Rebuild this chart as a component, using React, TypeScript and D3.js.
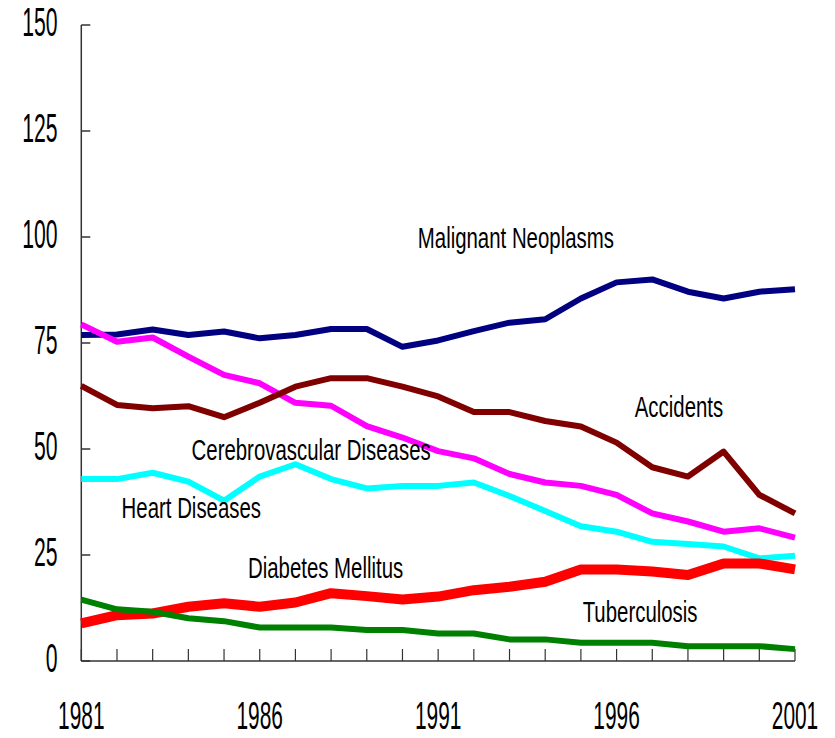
import React, { useEffect, useRef } from "react";
import * as d3 from "d3";

const years = d3.range(1981, 2002);

const malignant = [76.9, 77.0, 78.2, 76.9, 77.7, 76.1, 76.9, 78.3, 78.3, 74.1, 75.6, 77.8, 79.8, 80.6, 85.5, 89.3, 90.0, 87.1, 85.5, 87.1, 87.7];
const cerebro = [79.4, 75.3, 76.3, 71.8, 67.5, 65.5, 60.9, 60.2, 55.4, 52.7, 49.5, 47.8, 44.1, 42.1, 41.3, 39.2, 34.8, 32.9, 30.5, 31.3, 29.1];
const accidents = [64.9, 60.4, 59.6, 60.1, 57.5, 60.9, 64.7, 66.7, 66.7, 64.7, 62.4, 58.7, 58.7, 56.6, 55.3, 51.5, 45.7, 43.5, 49.4, 39.2, 34.8];
const heart = [42.9, 42.9, 44.4, 42.3, 37.8, 43.5, 46.4, 42.9, 40.7, 41.3, 41.3, 42.1, 38.9, 35.4, 31.8, 30.5, 28.1, 27.6, 27.0, 24.2, 24.8];
const diabetes = [8.9, 10.8, 11.2, 12.8, 13.6, 12.8, 13.8, 16.0, 15.3, 14.5, 15.2, 16.7, 17.5, 18.7, 21.6, 21.6, 21.1, 20.3, 23.0, 23.0, 21.6];
const tuberculosis = [14.5, 12.2, 11.6, 10.1, 9.4, 7.9, 7.9, 7.9, 7.3, 7.3, 6.5, 6.5, 5.1, 5.1, 4.3, 4.3, 4.3, 3.5, 3.5, 3.5, 2.8];

const yTicks = [0, 25, 50, 75, 100, 125, 150];
const xTickLabels = [1981, 1986, 1991, 1996, 2001];

const series = [
  { name: "Malignant Neoplasms", values: malignant, color: "#000080", width: 6 },
  { name: "Cerebrovascular Diseases", values: cerebro, color: "#FF00FF", width: 6 },
  { name: "Heart Diseases", values: heart, color: "#00FFFF", width: 6 },
  { name: "Accidents", values: accidents, color: "#800000", width: 6 },
  { name: "Diabetes Mellitus", values: diabetes, color: "#FF0000", width: 10 },
  { name: "Tuberculosis", values: tuberculosis, color: "#008000", width: 6 },
];

// label anchors in data coordinates (left edge year, baseline value)
const labels = [
  { text: "Malignant Neoplasms", year: 1990.43, value: 97.4 },
  { text: "Cerebrovascular Diseases", year: 1984.09, value: 47.4 },
  { text: "Heart Diseases", year: 1982.13, value: 33.7 },
  { text: "Diabetes Mellitus", year: 1985.67, value: 19.6 },
  { text: "Accidents", year: 1996.51, value: 57.5 },
  { text: "Tuberculosis", year: 1995.05, value: 9.2 },
];

const App = () => {
  const svgRef = useRef<SVGSVGElement>(null);

  useEffect(() => {
    const svg = d3.select(svgRef.current);
    svg.selectAll("*").remove();

    const width = 835;
    const height = 738;
    const left = 81.3;
    const right = 795;
    const top = 25;
    const bottom = 661;
    const font = "'Liberation Sans', Arial, sans-serif";

    const x = d3.scaleLinear().domain([1981, 2001]).range([left, right]);
    const y = d3.scaleLinear().domain([0, 150]).range([bottom, top]);

    svg.attr("width", width).attr("height", height);

    // y axis line and inward ticks
    svg
      .append("line")
      .attr("x1", left)
      .attr("x2", left)
      .attr("y1", top)
      .attr("y2", bottom)
      .attr("stroke", "#333")
      .attr("stroke-width", 1.5);

    svg
      .selectAll(".ytick")
      .data(yTicks)
      .join("line")
      .attr("class", "ytick")
      .attr("x1", left)
      .attr("x2", left + 9)
      .attr("y1", (d) => y(d))
      .attr("y2", (d) => y(d))
      .attr("stroke", "#333")
      .attr("stroke-width", 1.5);

    svg
      .selectAll(".ylabel")
      .data(yTicks)
      .join("text")
      .attr("class", "ylabel")
      .attr("transform", (d) => `translate(57.5, ${y(d) + 11}) scale(0.53, 1)`)
      .attr("text-anchor", "end")
      .attr("font-family", font)
      .attr("font-size", 40)
      .attr("fill", "#000")
      .text((d) => d);

    // x axis line and ticks
    svg
      .append("line")
      .attr("x1", left)
      .attr("x2", right)
      .attr("y1", bottom)
      .attr("y2", bottom)
      .attr("stroke", "#333")
      .attr("stroke-width", 1.5);

    svg
      .selectAll(".xtick")
      .data(years)
      .join("line")
      .attr("class", "xtick")
      .attr("x1", (d) => x(d))
      .attr("x2", (d) => x(d))
      .attr("y1", bottom)
      .attr("y2", bottom - 12)
      .attr("stroke", "#333")
      .attr("stroke-width", 1.2);

    svg
      .selectAll(".xlabel")
      .data(xTickLabels)
      .join("text")
      .attr("class", "xlabel")
      .attr("transform", (d) => `translate(${x(d)}, 729) scale(0.55, 1)`)
      .attr("text-anchor", "middle")
      .attr("font-family", font)
      .attr("font-size", 38)
      .attr("fill", "#000")
      .text((d) => d);

    const line = d3
      .line<number>()
      .x((d, i) => x(years[i]))
      .y((d) => y(d));

    svg
      .selectAll(".series")
      .data(series)
      .join("path")
      .attr("class", "series")
      .attr("fill", "none")
      .attr("stroke", (d) => d.color)
      .attr("stroke-width", (d) => d.width)
      .attr("stroke-linejoin", "round")
      .attr("d", (d) => line(d.values));

    svg
      .selectAll(".annot")
      .data(labels)
      .join("text")
      .attr("class", "annot")
      .attr("transform", (d) => `translate(${x(d.year)}, ${y(d.value)}) scale(0.68, 1)`)
      .attr("font-family", font)
      .attr("font-size", 30)
      .attr("fill", "#000")
      .text((d) => d.text);
  }, []);

  return <svg ref={svgRef} style={{ position: "absolute", left: 0, top: 0 }} />;
};

export default App;
